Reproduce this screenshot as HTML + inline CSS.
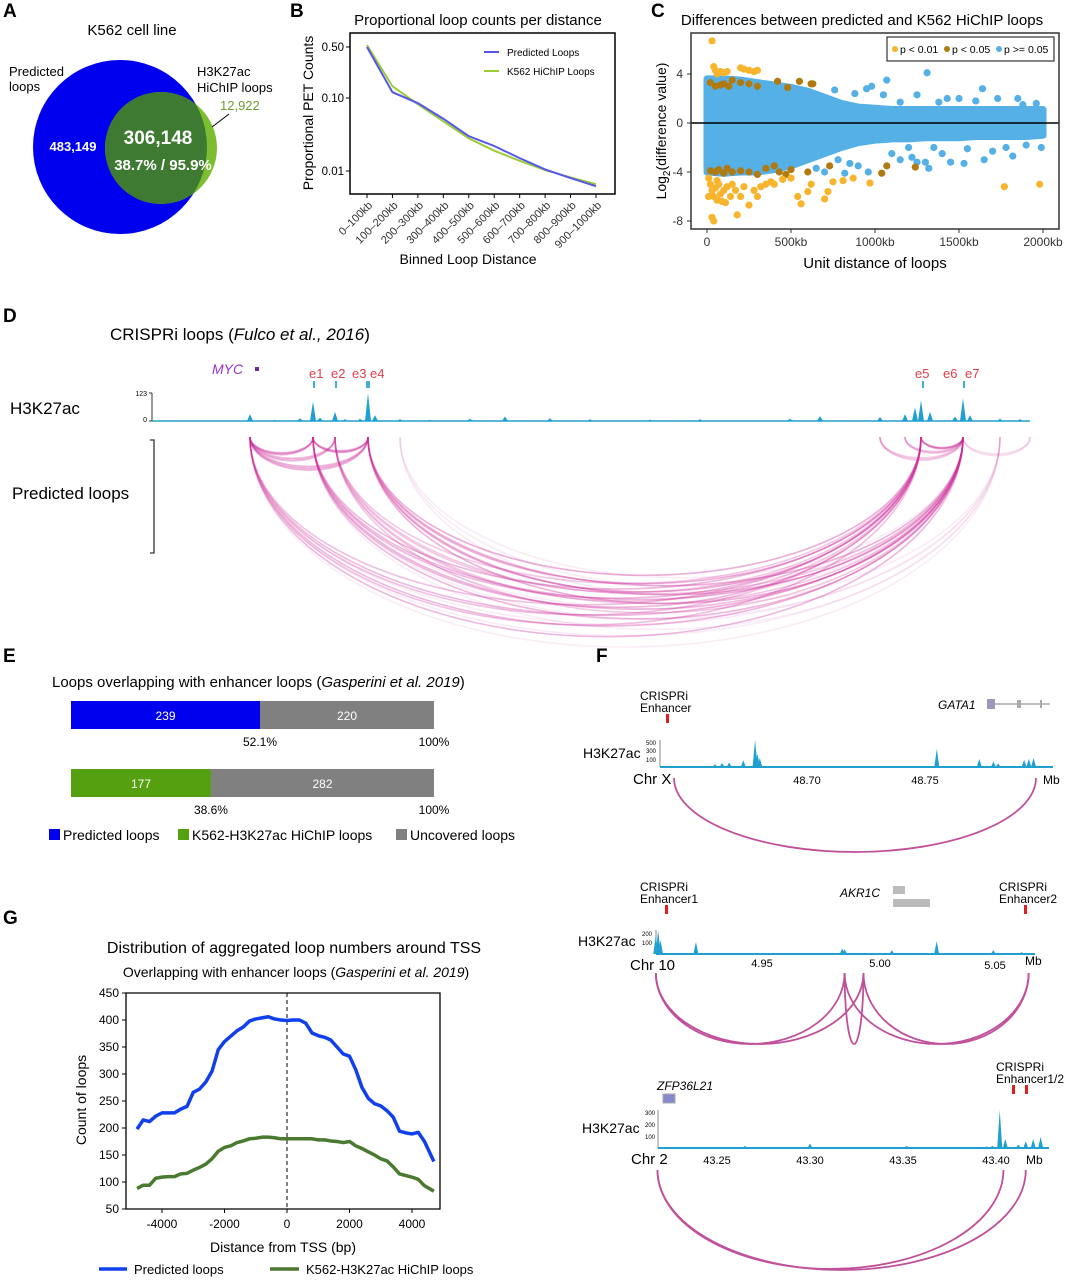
<!DOCTYPE html>
<html><head><meta charset="utf-8"><style>
body{margin:0;background:#fff}
svg{display:block;font-family:"Liberation Sans",Arial,sans-serif}
</style></head><body>
<svg id="fig" width="1074" height="1280" viewBox="0 0 1074 1280" xmlns="http://www.w3.org/2000/svg">
<g font-weight="bold" font-size="19" fill="#000">
<text x="3" y="17">A</text>
<text x="290" y="17">B</text>
<text x="651" y="17">C</text>
<text x="3" y="322">D</text>
<text x="3" y="662">E</text>
<text x="596" y="662">F</text>
<text x="3" y="924">G</text>
</g>

<!-- Panel A -->
<g>
<defs><clipPath id="blueclip"><circle cx="120" cy="147" r="87"/></clipPath></defs>
<text x="132" y="35" font-size="15" text-anchor="middle">K562 cell line</text>
<circle cx="120" cy="147" r="87" fill="#0000ee"/>
<circle cx="161" cy="148" r="56" fill="#7cbd32"/>
<circle cx="161" cy="148" r="56" fill="#3f7a32" clip-path="url(#blueclip)"/>
<text x="9" y="76" font-size="13">Predicted</text>
<text x="9" y="91" font-size="13">loops</text>
<text x="197" y="76" font-size="13">H3K27ac</text>
<text x="197" y="92" font-size="13">HiChIP loops</text>
<text x="220" y="110" font-size="13" fill="#6e9a30">12,922</text>
<line x1="212" y1="127" x2="229" y2="114" stroke="#000" stroke-width="1"/>
<text x="73" y="151" font-size="13" font-weight="bold" fill="#fff" text-anchor="middle">483,149</text>
<text x="158" y="144" font-size="19" font-weight="bold" fill="#fff" text-anchor="middle">306,148</text>
<text x="163" y="170" font-size="15" font-weight="bold" fill="#fff" text-anchor="middle">38.7% / 95.9%</text>
</g>

<g id="panelB"></g>
<g id="panelC"></g>
<g id="panelD"></g>
<g id="panelE"></g>
<g id="panelF"></g>
<g id="panelG"></g>
</svg>
<script>
// ---------- data ----------
const bCategories = ["0–100kb","100–200kb","200–300kb","300–400kb","400–500kb","500–600kb","600–700kb","700–800kb","800–900kb","900–1000kb"];
const bPredicted = [0.50,0.12,0.085,0.052,0.030,0.022,0.015,0.0105,0.0080,0.0062];
const bHichip = [0.53,0.145,0.082,0.048,0.028,0.019,0.0138,0.0103,0.0082,0.0066];
const bTicks = [0.5,0.1,0.01];
const bTickLabels = ["0.50","0.10","0.01"];

const cTicksY = [4,0,-4,-8];
const cTicksX = [0,500,1000,1500,2000];
const cTickXLabels = ["0","500kb","1000kb","1500kb","2000kb"];
const cEnvX = [0,100,200,300,400,500,600,700,800,900,1000,1100,1200,1300,1400,1500,1600,1700,1800,1900,2000];
const cEnvUpper = [3.6,3.6,3.5,3.3,3.1,2.9,2.6,2.1,1.6,1.3,1.2,1.1,1.1,1.1,1.1,1.1,1.1,1.1,1.1,1.1,1.1];
const cEnvLower = [-4.0,-4.1,-4.0,-4.0,-3.8,-3.5,-3.0,-2.5,-2.0,-1.6,-1.4,-1.3,-1.3,-1.2,-1.2,-1.2,-1.1,-1.1,-1.1,-1.1,-1.0];
const cBlueX = [1310,1070,950,980,1250,1640,1500,1430,1730,1850,1960,1100,1150,1250,1300,1320,1400,1450,1530,1650,1700,1780,1820,1900,1990,960,900,850,820,780,700,650,1200,1350,1550,1600,1380,1150,1050,1880,880,760,1220];
const cBlueY = [4.1,3.5,2.8,3.0,2.3,2.8,2.0,2.0,2.0,2.0,1.6,-2.5,-3.0,-3.2,-3.2,-3.7,-2.5,-3.2,-3.3,-3.0,-2.3,-2.0,-2.7,-1.8,-2.0,-4.0,-3.5,-3.3,-4.1,-3.0,-4.0,-3.7,-2.0,-2.0,-2.1,1.8,1.7,1.7,2.3,1.5,2.4,2.7,-2.8];
const cOrangeX = [30,40,50,60,80,100,120,200,220,250,280,300,10,20,30,40,50,60,70,80,90,100,110,120,140,150,170,180,200,220,250,280,300,320,350,380,400,450,500,540,560,600,620,700,720,750,810,870,970,1770,1980,30,40,10,60];
const cOrangeY = [6.7,4.6,4.3,4.0,4.2,4.1,4.2,4.5,4.4,4.3,4.2,4.3,-4.5,-5.0,-5.5,-6.0,-5.3,-6.3,-5.0,-5.8,-6.4,-5.5,-6.5,-5.2,-6.0,-5.0,-5.5,-7.5,-6.0,-5.2,-6.7,-5.5,-6.0,-5.2,-5.0,-4.8,-5.0,-4.6,-4.5,-6.0,-6.6,-5.6,-5.0,-6.2,-5.6,-4.8,-4.7,-4.5,-4.9,-5.2,-5.0,-7.7,-8.0,-6.0,-4.7];
const cBrownX = [20,50,80,100,130,150,200,250,300,420,480,550,620,630,20,50,70,100,120,150,200,250,300,350,400,430,470,500,600,730,1040,1070,1240];
const cBrownY = [3.3,3.0,3.1,3.2,3.0,3.5,3.3,3.2,3.0,3.4,2.9,3.4,3.2,3.2,-3.9,-4.0,-3.8,-4.1,-3.7,-4.0,-3.9,-4.0,-4.2,-3.7,-3.5,-4.0,-4.2,-3.8,-4.0,-3.5,-4.1,-3.5,-3.6];

const dPeakPos = [250,275,300,313,320,335,345,360,368,375,400,430,470,505,550,590,650,700,790,820,880,905,915,921,930,955,963,970,1000,1020];
const dPeakVal = [30,5,12,85,15,40,8,10,123,25,8,5,10,20,12,8,6,8,10,22,18,30,60,90,40,20,100,25,10,8];
const dArcL = [250,250,250,250,250,313,313,313,335,335,368,368,921,880,905,963,250,313,400];
const dArcR = [313,335,368,921,963,368,921,963,921,963,921,963,963,963,963,1030,1000,1000,963];
const dArcA = [.5,.4,.5,.4,.45,.5,.45,.45,.35,.35,.5,.5,.5,.3,.3,.15,.12,.12,.12];

const eCategories = ["Predicted loops","K562-H3K27ac HiChIP loops"];
const eCovered = [239,177];
const eUncovered = [220,282];
const ePctLabels = ["52.1%","38.6%"];

const gX = [-4800,-4600,-4400,-4200,-4000,-3800,-3600,-3400,-3200,-3000,-2800,-2600,-2400,-2200,-2000,-1800,-1600,-1400,-1200,-1000,-800,-600,-400,-200,0,200,400,600,800,1000,1200,1400,1600,1800,2000,2200,2400,2600,2800,3000,3200,3400,3600,3800,4000,4200,4400,4700];
const gPredicted = [198,215,212,222,228,228,228,235,240,266,272,285,305,345,360,370,380,387,398,402,404,406,402,400,399,400,400,394,376,371,368,363,350,337,333,308,275,255,245,241,232,220,194,191,189,192,175,138];
const gHichip = [88,94,94,107,109,110,110,115,116,122,127,133,143,157,164,167,173,176,180,181,183,183,182,180,180,180,180,180,180,178,178,176,175,173,175,167,162,156,150,143,139,128,115,112,109,105,93,83];
const gTicksY = [50,100,150,200,250,300,350,400,450];
const gTicksX = [-4000,-2000,0,2000,4000];

const f1PeakPos = [48.661,48.664,48.667,48.673,48.678,48.679,48.680,48.755,48.773,48.779,48.781,48.792,48.794,48.796];
const f1PeakVal = [60,90,100,150,600,300,200,400,180,120,80,160,180,200];
const f2PeakPos = [4.905,4.906,4.907,4.922,4.940,4.984,4.985,5.005,5.024,5.048,5.060];
const f2PeakVal = [200,260,150,130,10,60,50,40,140,40,20];
const f2ArcL = [4.905,4.905,4.985,4.993,4.985];
const f2ArcR = [4.985,4.993,5.063,5.063,4.993];
const f3PeakPos = [43.265,43.30,43.332,43.352,43.395,43.398,43.402,43.405,43.412,43.416,43.420,43.424];
const f3PeakVal = [20,40,10,20,15,20,340,80,30,60,80,100];
const f3ArcL = [43.218,43.218];
const f3ArcR = [43.404,43.416];

// ---------- helpers ----------
const NS="http://www.w3.org/2000/svg";
function mk(parent,tag,attrs,text){const e=document.createElementNS(NS,tag);for(const k in attrs)e.setAttribute(k,attrs[k]);if(text!==undefined)e.textContent=text;parent.appendChild(e);return e;}

// ---------- Panel B ----------
(function(){
const g=document.getElementById('panelB');
const x0=350,x1=615,y0=33,y1=194;
const xs=i=>367+i*(596-367)/9;
const ys=v=>98-(Math.log10(v)+1)*73;
let e=mk(g,'text',{x:478,y:25,'font-size':15,'text-anchor':'middle'},'Proportional loop counts per distance');

e=mk(g,'rect',{x:x0,y:y0,width:x1-x0,height:y1-y0,fill:'none',stroke:'#000','stroke-width':1.5});

bTicks.forEach((t,i)=>{mk(g,'line',{x1:x0-4,x2:x0,y1:ys(t),y2:ys(t),stroke:'#000'});
 e=mk(g,'text',{x:x0-6,y:ys(t)+4,'font-size':11.5,'text-anchor':'end'},bTickLabels[i]);
 });
bCategories.forEach((c,i)=>{const x=xs(i);mk(g,'line',{x1:x,x2:x,y1:y1,y2:y1+4,stroke:'#000'});
 e=mk(g,'text',{x:x+6,y:y1+12,'font-size':11,'text-anchor':'end',fill:'#333',transform:`rotate(-45 ${x+6} ${y1+12})`},c);
 });
e=mk(g,'text',{x:468,y:264,'font-size':14,'text-anchor':'middle'},'Binned Loop Distance');

e=mk(g,'text',{x:0,y:0,'font-size':14,'text-anchor':'middle',transform:'translate(313,113) rotate(-90)'},'Proportional PET Counts');

e=mk(g,'polyline',{points:bHichip.map((v,i)=>xs(i)+','+ys(v)).join(' '),fill:'none',stroke:'#9acd32','stroke-width':2});

e=mk(g,'polyline',{points:bPredicted.map((v,i)=>xs(i)+','+ys(v)).join(' '),fill:'none',stroke:'#5555ee','stroke-width':2});

mk(g,'line',{x1:484,x2:499,y1:52,y2:52,stroke:'#5555ee','stroke-width':2});
e=mk(g,'text',{x:507,y:56,'font-size':10},'Predicted Loops');
mk(g,'line',{x1:484,x2:499,y1:71,y2:71,stroke:'#9acd32','stroke-width':2});
e=mk(g,'text',{x:507,y:75,'font-size':10},'K562 HiChIP Loops');
})();

// ---------- Panel C ----------
(function(){
const g=document.getElementById('panelC');
const x0=691,x1=1059,y0=33,y1=229;
const xs=v=>707+v*(1043-707)/2000;
const ys=v=>123-v*12.25;
let e=mk(g,'text',{x:862,y:25,'font-size':15,'text-anchor':'middle'},'Differences between predicted and K562 HiChIP loops');

const pts=cEnvX.map((x,i)=>xs(x)+','+ys(cEnvUpper[i])).concat(cEnvX.slice().reverse().map((x,j)=>{const i=cEnvX.length-1-j;return xs(x)+','+ys(cEnvLower[i]);})).join(' ');
e=mk(g,'polygon',{points:pts,fill:'#55b0e6',stroke:'#55b0e6','stroke-width':7,'stroke-linejoin':'round'});

cBlueX.forEach((x,i)=>{e=mk(g,'circle',{cx:xs(x),cy:ys(cBlueY[i]),r:3.6,fill:'#55b0e6'});});
cBrownX.forEach((x,i)=>{e=mk(g,'circle',{cx:xs(x),cy:ys(cBrownY[i]),r:3.6,fill:'#b07a10'});});
cOrangeX.forEach((x,i)=>{e=mk(g,'circle',{cx:xs(x),cy:ys(cOrangeY[i]),r:3.6,fill:'#f7b42c'});});
e=mk(g,'line',{x1:x0,x2:x1,y1:ys(0),y2:ys(0),stroke:'#000','stroke-width':1.5});
e=mk(g,'rect',{x:x0,y:y0,width:x1-x0,height:y1-y0,fill:'none',stroke:'#333','stroke-width':1.5});
cTicksY.forEach(t=>{mk(g,'line',{x1:x0-4,x2:x0,y1:ys(t),y2:ys(t),stroke:'#333'});
 e=mk(g,'text',{x:x0-8,y:ys(t)+4,'font-size':12,'text-anchor':'end',fill:'#333'},t===-4||t===-8?'-'+Math.abs(t):String(t));});
cTicksX.forEach((t,i)=>{mk(g,'line',{x1:xs(t),x2:xs(t),y1:y1,y2:y1+4,stroke:'#333'});
 e=mk(g,'text',{x:xs(t),y:y1+17,'font-size':12,'text-anchor':'middle',fill:'#333'},cTickXLabels[i]);});
e=mk(g,'text',{x:875,y:268,'font-size':15,'text-anchor':'middle'},'Unit distance of loops');
e=mk(g,'text',{x:0,y:0,'font-size':14,'text-anchor':'middle',transform:'translate(666,131) rotate(-90)'});
e.innerHTML='Log<tspan font-size="10" dy="4">2</tspan><tspan dy="-4">(difference value)</tspan>';

e=mk(g,'rect',{x:887,y:37,width:167,height:24,fill:'#fff',stroke:'#333','stroke-width':1.2});
[['#f7b42c','p < 0.01',895],['#b07a10','p < 0.05',947],['#55b0e6','p >= 0.05',999]].forEach(a=>{
 mk(g,'circle',{cx:a[2],cy:49,r:3,fill:a[0]});
 e=mk(g,'text',{x:a[2]+5,y:53,'font-size':10.5},a[1]);});
})();

// ---------- Panel D ----------
(function(){
const g=document.getElementById('panelD');
let e=mk(g,'text',{x:110,y:340,'font-size':17});
e.innerHTML='CRISPRi loops (<tspan font-style="italic">Fulco et al., 2016</tspan>)';

e=mk(g,'text',{x:212,y:374,'font-size':14,'font-style':'italic',fill:'#9933cc'},'MYC');
mk(g,'rect',{x:255,y:367,width:4,height:4,fill:'#6a2a9a'});
[['e1',309],['e2',331],['e3',352],['e4',370],['e5',915],['e6',943],['e7',965]].forEach(a=>{
 e=mk(g,'text',{x:a[1],y:378,'font-size':13,fill:'#e0404a'},a[0]);});
[314,336,367,369,923,964].forEach(x=>mk(g,'rect',{x:x-1,y:381,width:2,height:7,fill:'#40b0d8'}));
e=mk(g,'text',{x:10,y:414,'font-size':17},'H3K27ac');
mk(g,'line',{x1:152,x2:152,y1:393,y2:421,stroke:'#333'});
mk(g,'line',{x1:149,x2:152,y1:393,y2:393,stroke:'#333'});mk(g,'line',{x1:149,x2:152,y1:421,y2:421,stroke:'#333'});
mk(g,'text',{x:147,y:396,'font-size':7,'text-anchor':'end'},'123');mk(g,'text',{x:147,y:422,'font-size':7,'text-anchor':'end'},'0');
mk(g,'line',{x1:152,x2:1030,y1:421,y2:421,stroke:'#20a0d0','stroke-width':1.5});
dPeakPos.forEach((p,i)=>{const h=dPeakVal[i]*28/123;e=mk(g,'polygon',{points:`${p-3},421 ${p},${421-h} ${p+3},421`,fill:'#20a0d0'});});
e=mk(g,'text',{x:12,y:499,'font-size':17},'Predicted loops');
mk(g,'path',{d:'M150,440 H154 V553 H150',fill:'none',stroke:'#333','stroke-width':1.3});
const top=437;
dArcL.forEach((l,i)=>{const r=dArcR[i];const span=r-l;[0.25,0.265,0.28].forEach(k=>{
 e=mk(g,'path',{d:`M${l},${top} A${span/2},${span*k} 0 0 0 ${r},${top}`,fill:'none',stroke:'#cc2a99','stroke-width':1.6,'stroke-opacity':dArcA[i]*0.75});
 });});
})();

// ---------- Panel E ----------
(function(){
const g=document.getElementById('panelE');
const x0=71,x1=434,rowY=[701,769],h=28;
let e=mk(g,'text',{x:52,y:687,'font-size':15});
e.innerHTML='Loops overlapping with enhancer loops (<tspan font-style="italic">Gasperini et al. 2019</tspan>)';

const cols=['#0000ee','#55a010'];
eCovered.forEach((c,i)=>{const tot=c+eUncovered[i];const xm=x0+(x1-x0)*c/tot;const y=rowY[i];
 e=mk(g,'rect',{x:x0,y:y,width:xm-x0,height:h,fill:cols[i]});
 e=mk(g,'rect',{x:xm,y:y,width:x1-xm,height:h,fill:'#808080'});
 e=mk(g,'text',{x:(x0+xm)/2,y:y+19,'font-size':12,fill:'#fff','text-anchor':'middle'},String(c));
 e=mk(g,'text',{x:(xm+x1)/2,y:y+19,'font-size':12,fill:'#fff','text-anchor':'middle'},String(eUncovered[i]));
 e=mk(g,'text',{x:xm,y:y+45,'font-size':12,'text-anchor':'middle'},ePctLabels[i]);
 e=mk(g,'text',{x:x1,y:y+45,'font-size':12,'text-anchor':'middle'},'100%');
});
[['#0000ee','Predicted loops',49],['#55a010','K562-H3K27ac HiChIP loops',178],['#808080','Uncovered loops',396]].forEach(a=>{
 mk(g,'rect',{x:a[2],y:829,width:11,height:11,fill:a[0]});
 e=mk(g,'text',{x:a[2]+14,y:840,'font-size':14},a[1]);});
})();

// ---------- Panel F ----------
(function(){
const g=document.getElementById('panelF');
let e;
function txt(x,y,s,t,extra){e=mk(g,'text',Object.assign({x:x,y:y,'font-size':s},extra||{}),t);return e;}
function track(x0,x1,base,h,pos,vals,vmax,scale){
 mk(g,'line',{x1:x0,x2:x0,y1:base-h,y2:base,stroke:'#888'});
 mk(g,'line',{x1:x0,x2:x1,y1:base,y2:base,stroke:'#20a0d0','stroke-width':2});
 pos.forEach((p,i)=>{const x=scale(p),hh=vals[i]/vmax*h;e=mk(g,'polygon',{points:`${x-2.5},${base} ${x},${base-hh} ${x+2.5},${base}`,fill:'#20a0d0'});});
}
function arc(l,r,top,depth){e=mk(g,'path',{d:`M${l},${top} A${(r-l)/2},${depth} 0 0 0 ${r},${top}`,fill:'none',stroke:'#c0509a','stroke-width':1.8});}
const s1=v=>807+(v-48.70)*(925-807)/0.05;
txt(640,700,12,'CRISPRi');txt(640,712,12,'Enhancer');
mk(g,'rect',{x:666,y:714,width:3,height:9,fill:'#e02020'});
txt(938,709,12,'GATA1',{'font-style':'italic'});
mk(g,'line',{x1:987,x2:1050,y1:704,y2:704,stroke:'#aaa','stroke-width':1.5});
mk(g,'rect',{x:987,y:699,width:8,height:10,fill:'#9999bb'});mk(g,'rect',{x:1017,y:700,width:4,height:8,fill:'#aaa'});mk(g,'rect',{x:1040,y:700,width:2,height:8,fill:'#aaa'});
txt(583,758,14,'H3K27ac');
mk(g,'text',{x:656,y:745,'font-size':6,'text-anchor':'end'},'500');mk(g,'text',{x:656,y:753,'font-size':6,'text-anchor':'end'},'300');mk(g,'text',{x:656,y:762,'font-size':6,'text-anchor':'end'},'100');
track(660,1053,767,27,f1PeakPos,f1PeakVal,600,s1);
txt(633,784,15,'Chr X');txt(807,784,11,'48.70',{'text-anchor':'middle'});txt(925,784,11,'48.75',{'text-anchor':'middle'});txt(1043,784,12,'Mb');
arc(674,1036,778,74);
const s2=v=>762+(v-4.95)*(880-762)/0.05;
txt(640,891,12,'CRISPRi');txt(640,903,12,'Enhancer1');
mk(g,'rect',{x:665,y:905,width:3,height:9,fill:'#e02020'});
txt(840,897,12,'AKR1C',{'font-style':'italic'});
mk(g,'rect',{x:893,y:886,width:12,height:8,fill:'#bbb'});mk(g,'rect',{x:893,y:899,width:37,height:8,fill:'#bbb'});
txt(999,891,12,'CRISPRi');txt(999,903,12,'Enhancer2');
mk(g,'rect',{x:1024,y:905,width:3,height:9,fill:'#e02020'});
txt(578,946,14,'H3K27ac');
mk(g,'text',{x:652,y:936,'font-size':6,'text-anchor':'end'},'200');mk(g,'text',{x:652,y:945,'font-size':6,'text-anchor':'end'},'100');
track(656,1035,954,24,f2PeakPos,f2PeakVal,260,s2);
txt(630,970,15,'Chr 10');txt(762,967,11,'4.95',{'text-anchor':'middle'});txt(880,967,11,'5.00',{'text-anchor':'middle'});txt(995,969,11,'5.05',{'text-anchor':'middle'});txt(1025,965,12,'Mb');
f2ArcL.forEach((l,i)=>{const L=s2(l),R=s2(f2ArcR[i]);arc(L,R,973,71);});
const s3=v=>717+(v-43.25)*(903-717)/0.10;
txt(657,1090,12,'ZFP36L21',{'font-style':'italic'});
mk(g,'rect',{x:663,y:1094,width:12,height:9,fill:'#8888cc',stroke:'#aaa'});
txt(996,1071,12,'CRISPRi');txt(996,1083,12,'Enhancer1/2');
mk(g,'rect',{x:1012,y:1085,width:3,height:9,fill:'#e02020'});mk(g,'rect',{x:1025,y:1085,width:3,height:9,fill:'#e02020'});
txt(582,1133,14,'H3K27ac');
mk(g,'text',{x:655,y:1115,'font-size':6,'text-anchor':'end'},'300');mk(g,'text',{x:655,y:1127,'font-size':6,'text-anchor':'end'},'200');mk(g,'text',{x:655,y:1139,'font-size':6,'text-anchor':'end'},'100');
track(658,1049,1148,38,f3PeakPos,f3PeakVal,340,s3);
txt(631,1164,15,'Chr 2');[43.25,43.30,43.35,43.40].forEach(v=>txt(s3(v),1164,11,v.toFixed(2),{'text-anchor':'middle'}));txt(1026,1164,12,'Mb');
f3ArcL.forEach((l,i)=>{const L=s3(l),R=s3(f3ArcR[i]);arc(L,R,1170,i===0?99:100);});
})();

// ---------- Panel G ----------
(function(){
const g=document.getElementById('panelG');
const x0=126,x1=440,y0=993,y1=1209;
const xs=v=>287+v*0.03125;
const ys=v=>1209-(v-50)*(216/400);
let e=mk(g,'text',{x:294,y:953,'font-size':16,'text-anchor':'middle'},'Distribution of aggregated loop numbers around TSS');

e=mk(g,'text',{x:296,y:977,'font-size':14,'text-anchor':'middle'});
e.innerHTML='Overlapping with enhancer loops (<tspan font-style="italic">Gasperini et al. 2019</tspan>)';

mk(g,'path',{d:`M${x0},${y0} V${y1} H${x1} V${y0} Z`,fill:'none',stroke:'#000','stroke-width':1.3});
gTicksY.forEach(t=>{mk(g,'line',{x1:x0-4,x2:x0,y1:ys(t),y2:ys(t),stroke:'#000'});
 e=mk(g,'text',{x:x0-7,y:ys(t)+4,'font-size':12,'text-anchor':'end'},String(t));});
gTicksX.forEach(t=>{mk(g,'line',{x1:xs(t),x2:xs(t),y1:y1,y2:y1+4,stroke:'#000'});
 e=mk(g,'text',{x:xs(t),y:y1+19,'font-size':12,'text-anchor':'middle'},t<0?'-'+Math.abs(t):String(t));});
e=mk(g,'line',{x1:xs(0),x2:xs(0),y1:y0,y2:y1,stroke:'#000','stroke-dasharray':'4,3'});
e=mk(g,'polyline',{points:gX.map((x,i)=>xs(x)+','+ys(gPredicted[i])).join(' '),fill:'none',stroke:'#1040ee','stroke-width':3.5,'stroke-linejoin':'round'});

e=mk(g,'polyline',{points:gX.map((x,i)=>xs(x)+','+ys(gHichip[i])).join(' '),fill:'none',stroke:'#4a7a30','stroke-width':3.5,'stroke-linejoin':'round'});

e=mk(g,'text',{x:283,y:1252,'font-size':14,'text-anchor':'middle'},'Distance from TSS (bp)');
e=mk(g,'text',{x:0,y:0,'font-size':14,'text-anchor':'middle',transform:'translate(86,1100) rotate(-90)'},'Count of loops');
mk(g,'line',{x1:99,x2:127,y1:1269,y2:1269,stroke:'#1040ee','stroke-width':3.5});
e=mk(g,'text',{x:134,y:1274,'font-size':13},'Predicted loops');
mk(g,'line',{x1:270,x2:299,y1:1269,y2:1269,stroke:'#4a7a30','stroke-width':3.5});
e=mk(g,'text',{x:306,y:1274,'font-size':13},'K562-H3K27ac HiChIP loops');
})();
</script>
</body></html>
